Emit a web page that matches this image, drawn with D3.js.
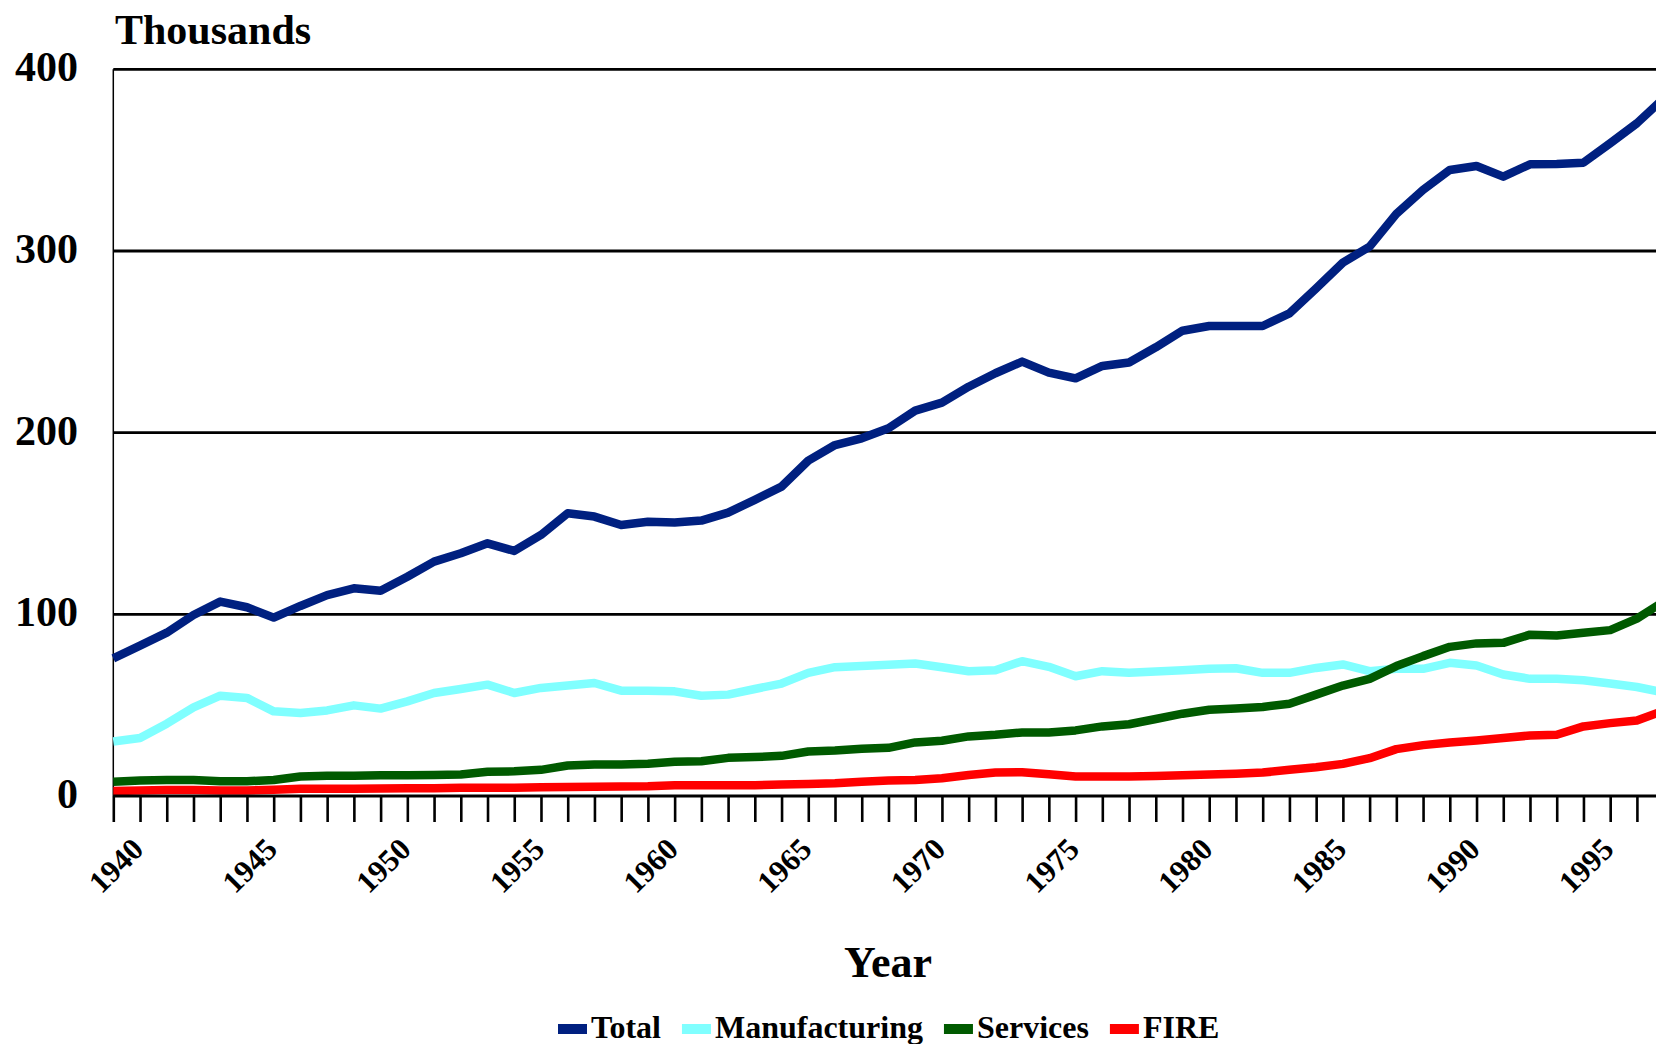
<!DOCTYPE html>
<html>
<head>
<meta charset="utf-8">
<script src="https://cdnjs.cloudflare.com/ajax/libs/d3/7.8.5/d3.min.js"></script>
<style>
  html, body { margin: 0; padding: 0; background: #ffffff; overflow: hidden; }
  svg { display: block; }
  text { font-family: "Liberation Serif", "Times New Roman", serif; font-weight: bold; fill: #000; }
</style>
</head>
<body>
<svg id="chart" width="1656" height="1044"></svg>
<script>
const years = d3.range(1940, 1999);
const yTicks = [0, 100, 200, 300, 400];
const xLabelYears = [1940, 1945, 1950, 1955, 1960, 1965, 1970, 1975, 1980, 1985, 1990, 1995];

const total = [75.8, 82.8, 89.9, 99.6, 107, 103.9, 98.2, 104.6, 110.6, 114.3,
  113, 120.7, 129, 133.6, 139.1, 134.9, 143.7, 155.6, 153.8, 149.2,
  151, 150.5, 151.6, 156, 163, 170.3, 184.6, 193.2, 196.9, 202.4,
  212.1, 216.5, 225.3, 232.7, 239.1, 233, 229.9, 236.7, 238.6, 247,
  256.1, 258.7, 258.7, 258.7, 265.7, 279.4, 293.6, 302.4, 320.4, 333.6,
  344.6, 346.8, 340.9, 347.7, 347.9, 348.6, 359.3, 370.3, 384];

const manufacturing = [30, 31.9, 39.8, 48.8, 55.2, 54, 46.6, 45.7, 47.1, 49.9,
  48.1, 52.1, 56.7, 58.9, 61.3, 56.7, 59.5, 60.8, 62.2, 58,
  58, 57.6, 55.2, 55.8, 58.9, 61.9, 67.8, 70.9, 71.5, 72.2,
  72.9, 70.9, 68.7, 69.2, 74.2, 71.1, 65.9, 68.7, 67.8, 68.5,
  69.2, 70.0, 70.3, 67.8, 67.8, 70.5, 72.4, 68.7, 70.0, 70.0,
  73.3, 71.8, 66.9, 64.5, 64.5, 63.7, 61.9, 60.0, 57.0];

const services = [7.9, 8.5, 8.8, 8.8, 8.1, 8.1, 8.8, 10.7, 11.2, 11.2,
  11.4, 11.4, 11.6, 11.8, 13.3, 13.6, 14.4, 16.8, 17.3, 17.3,
  17.7, 18.8, 19.1, 21.0, 21.4, 22.1, 24.5, 25.0, 26.0, 26.5,
  29.5, 30.4, 32.8, 33.7, 35.0, 35.0, 36.1, 38.3, 39.5, 42.4,
  45.3, 47.5, 48.2, 49.0, 50.8, 55.8, 60.8, 64.5, 71.5, 77.0,
  82.1, 84.0, 84.3, 88.8, 88.4, 89.9, 91.3, 97.6, 107];

const fire = [2.8, 3.0, 3.3, 3.3, 3.0, 3.0, 3.5, 4.0, 4.0, 4.0,
  4.1, 4.2, 4.3, 4.5, 4.6, 4.6, 4.8, 5.0, 5.1, 5.2,
  5.3, 5.9, 5.9, 5.9, 5.9, 6.3, 6.6, 7.0, 7.9, 8.5,
  8.8, 9.8, 11.6, 12.9, 13.1, 12.0, 10.7, 10.7, 10.7, 11.0,
  11.4, 11.8, 12.2, 12.9, 14.4, 15.8, 17.7, 20.8, 25.8, 28.0,
  29.5, 30.6, 31.9, 33.3, 33.7, 38.3, 40.1, 41.6, 47];

const seriesNames = ["Total", "Manufacturing", "Services", "FIRE"];
const seriesColors = ["#002080", "#80FFFF", "#005A00", "#FF0000"];
const seriesValues = [total, manufacturing, services, fire];

const svg = d3.select("#chart");
const plotLeft = 113.3, plotBottom = 796, plotTop = 69.3;
const yearStep = 26.73;

const x = d3.scaleLinear().domain([1940, 1998]).range([plotLeft, plotLeft + 58 * yearStep]);
const y = d3.scaleLinear().domain([0, 400]).range([plotBottom, plotTop]);

// gridlines
svg.append("g").selectAll("line").data(yTicks.filter(d => d > 0)).join("line")
  .attr("x1", plotLeft).attr("x2", 1656)
  .attr("y1", d => y(d)).attr("y2", d => y(d))
  .attr("stroke", "#000").attr("stroke-width", 2.8);

// y-axis line
svg.append("line").attr("x1", plotLeft).attr("x2", plotLeft)
  .attr("y1", y(400)).attr("y2", plotBottom)
  .attr("stroke", "#000").attr("stroke-width", 1.5);

// series lines
const line = d3.line().x((d, i) => x(years[i])).y(d => y(d));
svg.append("g").selectAll("path").data(seriesValues).join("path")
  .attr("d", d => line(d))
  .attr("fill", "none")
  .attr("stroke", (d, i) => seriesColors[i])
  .attr("stroke-width", 8.5)
  .attr("stroke-linejoin", "round")
  .attr("stroke-linecap", "butt");

// x axis
const xAxis = d3.axisBottom(x).tickValues(years).tickSize(26).tickSizeOuter(0).tickFormat("");
const gx = svg.append("g").attr("transform", `translate(0,${plotBottom})`).call(xAxis);
gx.select(".domain").attr("stroke", "#000").attr("stroke-width", 2.8).attr("d", `M${plotLeft},0H1656`);
gx.selectAll(".tick line").attr("stroke", "#000").attr("stroke-width", 2.6);

// x labels
svg.append("g").selectAll("text").data(xLabelYears).join("text")
  .attr("transform", d => `translate(${x(d) + 32},${plotBottom + 55}) rotate(-45)`)
  .attr("text-anchor", "end")
  .style("font-size", "31px")
  .text(d => d);

// y labels
svg.append("g").selectAll("text").data(yTicks).join("text")
  .attr("x", 78).attr("y", d => y(d) + 12)
  .attr("text-anchor", "end")
  .style("font-size", "42px")
  .text(d => d);

// unit title
svg.append("text").attr("x", 115).attr("y", 44).style("font-size", "42px").text("Thousands");

// x title
svg.append("text").attr("x", 888).attr("y", 977).attr("text-anchor", "middle")
  .style("font-size", "44px").text("Year");

// legend
const legend = svg.append("g");
let lx = 558;
seriesNames.forEach((name, i) => {
  legend.append("rect").attr("x", lx).attr("y", 1024).attr("width", 29).attr("height", 10)
    .attr("fill", seriesColors[i]);
  const t = legend.append("text").attr("x", lx + 33).attr("y", 1038)
    .style("font-size", "32px").text(name);
  lx += 33 + t.node().getComputedTextLength() + 21;
});
</script>
</body>
</html>
